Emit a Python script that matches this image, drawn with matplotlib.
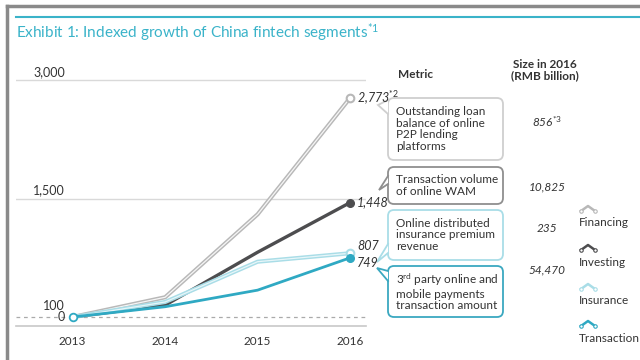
import matplotlib
matplotlib.use("Agg")
import matplotlib.pyplot as plt
from matplotlib.patches import FancyBboxPatch, Polygon

plt.rcParams['font.family'] = ['Lato', 'DejaVu Sans']
plt.rcParams['mathtext.fontset'] = 'custom'
plt.rcParams['mathtext.rm'] = 'Lato'
plt.rcParams['mathtext.it'] = 'Lato:italic'

years = [2013, 2014, 2015, 2016]
financing = [0, 250, 1300, 2773]
investing = [0, 150, 820, 1448]
insurance = [0, 190, 700, 807]
transaction = [0, 130, 340, 749]
end_labels = ["2,773", "1,448", "807", "749"]
ytick_vals = [0, 100, 1500, 3000]
ytick_labels = ["0", "100", "1,500", "3,000"]
metrics = ["Outstanding loan\nbalance of online\nP2P lending\nplatforms",
           "Transaction volume\nof online WAM",
           "Online distributed\ninsurance premium\nrevenue",
           "3$^{\\rm rd}$ party online and\nmobile payments\ntransaction amount"]
sizes = ["856$^{*3}$", "10,825", "235", "54,470"]
legend_names = ["Financing", "Investing", "Insurance", "Transaction"]

C_FIN = "#b8b8b8"
C_INV = "#4d4d4f"
C_INS = "#a9dde7"
C_TRA = "#2fa9c3"
TEAL = "#3ab3c9"
TXT = "#333333"

W, H = 640, 360
fig = plt.figure(figsize=(6.4, 3.6), dpi=100)
fig.patch.set_facecolor("white")

ov = fig.add_axes([0, 0, 1, 1], zorder=0)
ov.set_xlim(0, W)
ov.set_ylim(H, 0)
ov.axis("off")

ov.plot([7, 7], [6, H], color="#8a8a8a", lw=2.5)
ov.plot([7, W], [6, 6], color="#8a8a8a", lw=2.5)
ov.plot([16, W], [17, 17], color=TEAL, lw=1.5)
ov.text(16, 33, "Exhibit 1: Indexed growth of China fintech segments$^{*1}$",
        color=TEAL, fontsize=11, va="center", ha="left")

px_per = 237 / 3000.0
x0, x1 = 16, 366
ybot, ytop = 326, 60
ax = fig.add_axes([x0 / W, (H - ybot) / H, (x1 - x0) / W, (ybot - ytop) / H], zorder=2)
ax.patch.set_alpha(0)
ax.set_xlim(2013 - 57 / 93, 2016 + 16 / 93)
ax.set_ylim(-(326 - 317) / px_per, (317 - 60) / px_per)
for s in ["top", "right", "left"]:
    ax.spines[s].set_visible(False)
ax.spines["bottom"].set_color("#c8c8c8")
ax.spines["bottom"].set_linewidth(1.2)
ax.set_yticks([])
ax.set_xticks(years)
ax.set_xticklabels([str(y) for y in years], fontsize=8.5, color=TXT)
ax.tick_params(axis="x", length=0, pad=7)

for v in [1500, 3000]:
    ax.axhline(v, color="#d9d9d9", lw=1, zorder=1)
ax.axhline(0, color="#aaaaaa", lw=0.9, ls=(0, (3, 3)), zorder=1)

for v, lab in zip(ytick_vals, ytick_labels):
    if v == 0:
        ax.annotate(lab, (0.14, v), xycoords=("axes fraction", "data"),
                    ha="right", va="center", fontsize=9, color=TXT)
    elif v == 100:
        ax.annotate(lab, (0.14, v), xycoords=("axes fraction", "data"),
                    xytext=(0, 2.5), textcoords="offset points",
                    ha="right", va="center", fontsize=9, color=TXT)
    else:
        ax.annotate(lab, (0.14, v), xycoords=("axes fraction", "data"),
                    xytext=(0, 1.5), textcoords="offset points",
                    ha="right", va="bottom", fontsize=9, color=TXT)

ax.plot(years, financing, color=C_FIN, lw=3.0, zorder=3, solid_capstyle="round")
ax.plot(years, financing, color="#f6f6f6", lw=0.9, zorder=3.1)
ax.plot(years, investing, color=C_INV, lw=2.4, zorder=3.2)
ax.plot(years, insurance, color=C_INS, lw=3.0, zorder=3.3)
ax.plot(years, insurance, color="#e8f6f9", lw=0.9, zorder=3.35)
ax.plot(years, transaction, color=C_TRA, lw=2.0, zorder=3.4)

ax.plot([2016], [financing[-1]], "o", ms=5.5, mfc="white", mec=C_FIN, mew=1.5, zorder=5)
ax.plot([2016], [investing[-1]], "o", ms=5.5, mfc=C_INV, mec=C_INV, zorder=5)
ax.plot([2016], [insurance[-1]], "o", ms=5.5, mfc="white", mec=C_INS, mew=1.5, zorder=5)
ax.plot([2016], [transaction[-1]], "o", ms=5.5, mfc=C_TRA, mec=C_TRA, zorder=5)
ax.plot([2013], [0], "o", ms=5.5, mfc="white", mec=C_TRA, mew=1.3, zorder=5)

lab_off = [(5, 0), (5, 0), (5, 5), (5, -4)]
for vals, lab, off in zip([financing, investing, insurance, transaction], end_labels, lab_off):
    txt = lab + ("$^{*2}$" if lab == end_labels[0] else "")
    ax.annotate(txt, (2016, vals[-1]), xytext=off, textcoords="offset points",
                ha="left", va="center", fontsize=9, style="italic", color=TXT, zorder=6)

ov.text(398, 75, "Metric", fontsize=8.5, fontweight="bold", color=TXT, va="center", ha="left")
ov.text(545, 70, "Size in 2016\n(RMB billion)", fontsize=8.5, fontweight="bold",
        color=TXT, va="center", ha="center", linespacing=1.1)

boxes = [(98, 160), (167, 204), (210, 260), (266, 317)]
box_cols = ["#cfcfcf", "#8f8f8f", "#a9dde7", "#3aa8c0"]
pointers = [((388, 100), (378, 105), (388, 114)),
            ((388, 176), (379, 190), (388, 184)),
            ((388, 244), (377, 262), (388, 253)),
            ((388, 271), (377, 268), (388, 281))]
size_y = [122, 187, 228, 270]
for (yt, yb), col, pt, m, s, sy in zip(boxes, box_cols, pointers, metrics, sizes, size_y):
    bx = FancyBboxPatch((388, yt), 115, yb - yt,
                        boxstyle="round,pad=0,rounding_size=6",
                        fc="white", ec=col, lw=1.3, zorder=2)
    ov.add_patch(bx)
    ov.add_patch(Polygon(pt, closed=True, fc="white", ec="none", zorder=3))
    ov.plot([pt[0][0], pt[1][0], pt[2][0]], [pt[0][1], pt[1][1], pt[2][1]],
            color=col, lw=1.3, zorder=4, solid_joinstyle="miter")
    ov.text(396, (yt + yb) / 2, m, fontsize=8.5, color=TXT, va="center", ha="left",
            linespacing=1.05, zorder=5)
    ov.text(547, sy, s, fontsize=8.5, style="italic", color=TXT, va="center",
            ha="center", zorder=5)

leg_cols = [C_FIN, C_INV, C_INS, C_TRA]
icon_y = [209, 248, 287, 324]
label_y = [222, 262, 300, 338]
for name, col, iy, ly in zip(legend_names, leg_cols, icon_y, label_y):
    xs = [581, 588, 595]
    ys = [iy + 2, iy - 3, iy + 2]
    ov.plot(xs, ys, color=col, lw=1.8, zorder=4)
    ov.plot([xs[0], xs[2]], [ys[0], ys[2]], "o", ms=2.5, mfc="white", mec=col, mew=0.8, zorder=5)
    ov.text(579, ly, name, fontsize=8.5, color=TXT, va="center", ha="left")

fig.savefig("out.png", dpi=100, facecolor="white")
